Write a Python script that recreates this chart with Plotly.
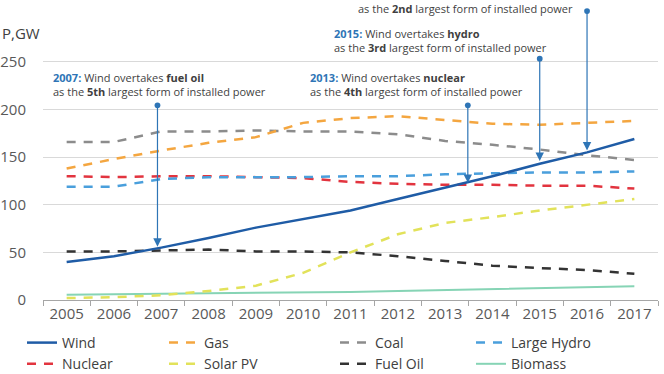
import plotly.graph_objects as go

years = list(range(2005, 2018))
wind = [40, 46, 55, 65, 76, 85, 94, 106, 118, 130, 143, 155, 169]
gas = [138, 148, 157, 165, 171, 186, 191, 193, 189, 185, 184, 186, 188]
coal = [166, 166, 177, 177, 178, 177, 177, 174, 167, 163, 158, 152, 147]
large_hydro = [119, 119, 127, 129, 129, 129, 130, 130, 132, 133, 134, 134, 135]
nuclear = [130, 129, 130, 130, 129, 128, 124, 122, 121, 121, 120, 120, 117]
solar_pv = [2, 3, 5, 9.5, 15, 28.5, 50, 69, 81, 87, 94, 100, 106]
fuel_oil = [51, 51, 52, 53, 51, 51, 50, 46, 41, 36, 33.5, 31.5, 27.5]
biomass = [5.5, 6, 6.5, 7, 7.2, 7.7, 8.5, 9.5, 10.5, 11.5, 12.5, 13.5, 14.5]

y_ticks = [0, 50, 100, 150, 200, 250]

# milestone arrows: (x position, dot value, tip value)
arrow_x = [2006.92, 2013.48, 2015.0, 2016.0]
arrow_top = [206, 206, 255, 305]
arrow_tip = [56, 123, 146, 157]

BLUE_TXT = "#2e75b6"
DASH = "9px,8px"

series = [
    # name, values, color, dash, width, legend, rank
    ("Biomass", biomass, "#86d4b5", "solid", 2, "legend4", 2),
    ("Solar PV", solar_pv, "#e2e25a", DASH, 2.5, "legend2", 2),
    ("Fuel Oil", fuel_oil, "#333333", DASH, 2.5, "legend3", 2),
    ("Nuclear", nuclear, "#e2343f", DASH, 2.5, "legend", 2),
    ("Large Hydro", large_hydro, "#4a9fdc", DASH, 2.5, "legend4", 1),
    ("Coal", coal, "#8c8c8c", DASH, 2.5, "legend3", 1),
    ("Gas", gas, "#f4a640", DASH, 2.5, "legend2", 1),
    ("Wind", wind, "#1f5ca6", "solid", 2.5, "legend", 1),
]

fig = go.Figure()
for name, vals, color, dash, w, leg, rank in series:
    fig.add_trace(go.Scatter(
        x=years, y=vals, mode="lines", name=name,
        line=dict(color=color, width=w, dash=dash),
        legend=leg, legendrank=rank,
    ))

annotations = []
for ax_, top, tip in zip(arrow_x, arrow_top, arrow_tip):
    annotations.append(dict(
        x=ax_, y=tip, ax=ax_, ay=top, xref="x", yref="y", axref="x", ayref="y",
        text="", showarrow=True, arrowhead=2, arrowsize=1.4, arrowwidth=1.2,
        arrowcolor=BLUE_TXT, arrowside="end+start", startarrowhead=6,
        startarrowsize=1.2,
    ))

TXT = "#3f3f3f"
def note(year, what, rank):
    return (f"<span style='color:{BLUE_TXT}'><b>{year}:</b></span> Wind overtakes <b>{what}</b>"
            f"<br>as the <b>{rank}</b> largest form of installed power")

ann_font = dict(family="Open Sans, sans-serif", size=11, color=TXT)
annotations += [
    dict(x=2004.66, y=226, xref="x", yref="y", xanchor="left", yanchor="middle",
         text=note(2007, "fuel oil", "5th"), showarrow=False, align="left", font=ann_font),
    dict(x=2010.11, y=226, xref="x", yref="y", xanchor="left", yanchor="middle",
         text=note(2013, "nuclear", "4th"), showarrow=False, align="left", font=ann_font),
    dict(x=2010.60, y=273, xref="x", yref="y", xanchor="left", yanchor="middle",
         text=note(2015, "hydro", "3rd"), showarrow=False, align="left", font=ann_font),
    dict(x=2011.12, y=306.5, xref="x", yref="y", xanchor="left", yanchor="middle",
         text="as the <b>2nd</b> largest form of installed power", showarrow=False,
         align="left", font=ann_font),
    dict(x=0.0, y=(300 - 33) / 300, xref="paper", yref="paper", xanchor="left", yanchor="middle",
         xshift=-43, text="P,GW", showarrow=False,
         font=dict(family="Open Sans, sans-serif", size=15, color="#404040")),
]

leg_font = dict(family="Open Sans, sans-serif", size=14, color="#404040")
def leg(xpx):
    return dict(x=xpx / 664, xref="container", y=(374 - 327) / 374, yref="container",
                xanchor="left", yanchor="top",
                orientation="v", font=leg_font, bgcolor="rgba(0,0,0,0)",
                tracegroupgap=0, itemwidth=30)

fig.update_layout(
    width=664, height=374,
    margin=dict(l=43, r=6, t=0, b=74, autoexpand=False),
    paper_bgcolor="white", plot_bgcolor="white",
    showlegend=True,
    legend=leg(22), legend2=leg(164), legend3=leg(335), legend4=leg(471),
    annotations=annotations,
    xaxis=dict(
        range=[2004.5, 2017.5], tickmode="array", tickvals=years,
        ticktext=[str(y) for y in years], ticks="", showgrid=False,
        showline=True, linecolor="#a6a6a6", linewidth=1,
        tickfont=dict(family="Open Sans, sans-serif", size=15, color="#595959"),
        minor=dict(tickmode="linear", tick0=2004.5, dtick=1, ticks="outside",
                   ticklen=5, tickcolor="#a6a6a6", showgrid=False),
        zeroline=False, fixedrange=True,
    ),
    yaxis=dict(
        range=[0, 315], tickmode="array", tickvals=y_ticks,
        showgrid=True, gridcolor="#d9d9d9", gridwidth=1, zeroline=False,
        ticks="", ticklabelstandoff=16,
        tickfont=dict(family="Open Sans, sans-serif", size=15, color="#595959"),
    ),
)

fig.write_html("out.html")
